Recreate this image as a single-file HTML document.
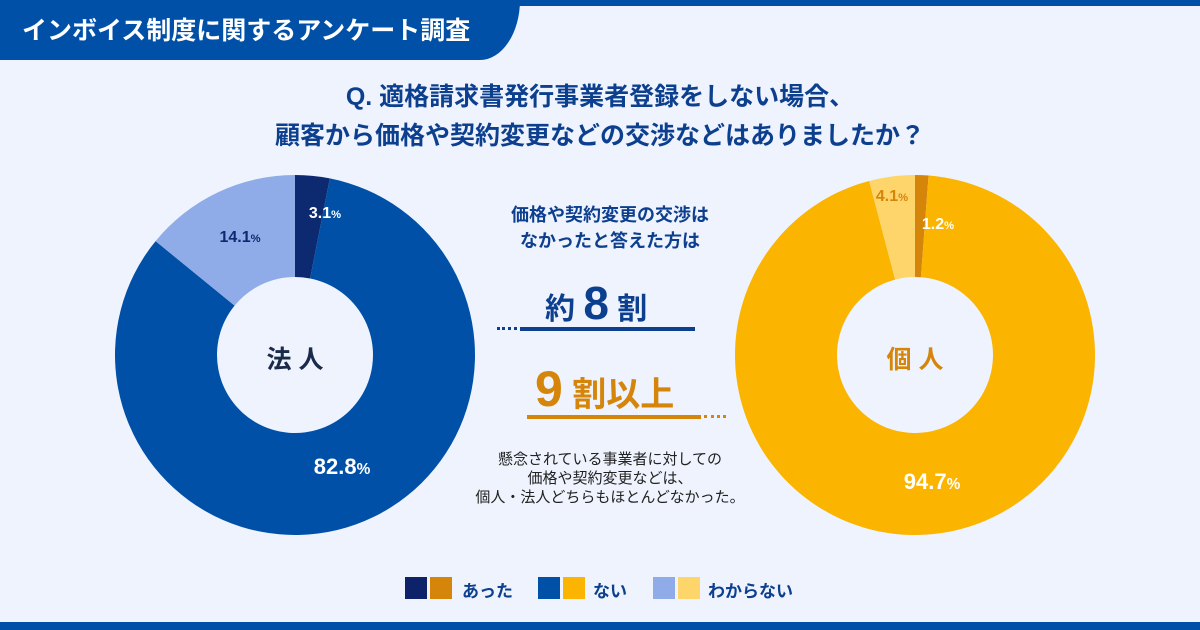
<!DOCTYPE html>
<html><head><meta charset="utf-8">
<style>
body{margin:0;width:1200px;height:630px;overflow:hidden;background:#eef3fd;font-family:"Liberation Sans","Noto Sans CJK JP",sans-serif;}
.abs{position:absolute;}
.t{font-weight:bold;white-space:nowrap;}
</style></head><body>
<div class="abs" style="left:0;top:0;width:1200px;height:6px;background:#0050a8"></div>
<div class="abs" style="left:0;top:0;width:520px;height:60px;background:#0050a8;border-bottom-right-radius:40px 60px"></div>
<div class="abs t" style="left:22px;top:11px;font-size:25px;color:#fff">インボイス制度に関するアンケート調査</div>
<div class="abs t" style="left:0;width:1200px;top:78px;text-align:center;font-size:25px;line-height:39px;color:#0d3f8f">Q. 適格請求書発行事業者登録をしない場合、<br>顧客から価格や契約変更などの交渉などはありましたか？</div>
<svg class="abs" style="left:0;top:0" width="1200" height="630">
<g id="g"></g><g id="gl"></g>
</svg>
<div class="abs t" style="left:245px;top:340px;width:100px;text-align:center;font-size:25px;color:#1a2a4a">法 人</div>
<div class="abs t" style="left:865px;top:340px;width:100px;text-align:center;font-size:25px;color:#d4850a">個 人</div>
<div class="abs t" style="left:470px;top:202px;width:280px;text-align:center;font-size:18px;line-height:26px;color:#0d3f8f">価格や契約変更の交渉は<br>なかったと答えた方は</div>
<div class="abs t" style="left:545px;top:276px;font-size:30px;color:#0d3f8f">約 <span style="font-size:46px">8</span> 割</div>
<div class="abs" style="left:497px;top:327px;width:20px;border-top:3px dotted #0d3f8f"></div>
<div class="abs" style="left:520px;top:327px;width:175px;height:4px;background:#0d3f8f"></div>
<div class="abs t" style="left:535px;top:360px;font-size:34px;color:#d4850a"><span style="font-size:50px">9</span> 割以上</div>
<div class="abs" style="left:527px;top:415px;width:174px;height:4px;background:#d4850a"></div>
<div class="abs" style="left:704px;top:415px;width:22px;border-top:3px dotted #d4850a"></div>
<div class="abs t" style="left:450px;top:450px;width:320px;text-align:center;font-size:15px;line-height:19px;color:#222;font-weight:normal">懸念されている事業者に対しての<br>価格や契約変更などは、<br>個人・法人どちらもほとんどなかった。</div>
<div class="abs" style="left:405px;top:577px;width:22px;height:22px;background:#0d2268"></div>
<div class="abs" style="left:430px;top:577px;width:22px;height:22px;background:#d4850a"></div>
<div class="abs t" style="left:462px;top:577px;font-size:17px;color:#0d3f8f">あった</div>
<div class="abs" style="left:538px;top:577px;width:22px;height:22px;background:#0050a8"></div>
<div class="abs" style="left:563px;top:577px;width:22px;height:22px;background:#fbb400"></div>
<div class="abs t" style="left:593px;top:577px;font-size:17px;color:#0d3f8f">ない</div>
<div class="abs" style="left:653px;top:577px;width:22px;height:22px;background:#8fabe8"></div>
<div class="abs" style="left:678px;top:577px;width:22px;height:22px;background:#fdd56b"></div>
<div class="abs t" style="left:708px;top:577px;font-size:17px;color:#0d3f8f">わからない</div>
<div class="abs" style="left:0;top:622px;width:1200px;height:8px;background:#0050a8"></div>
<script>
const categories=["あった","ない","わからない"];
const corpValues=[3.1,82.8,14.1];
const indivValues=[1.2,94.7,4.1];
const corpColors=["#0d2a70","#0050a8","#8fabe8"];
const indivColors=["#d4850a","#fbb400","#fdd56b"];
const corpLabelColors=["#fff","#fff","#0d2a70"];
const indivLabelColors=["#fff","#fff","#d4850a"];
const g=document.getElementById('g');
const gl=document.getElementById('gl');
const NS="http://www.w3.org/2000/svg";
function pt(cx,cy,r,f){const a=f*2*Math.PI-Math.PI/2;return [cx+r*Math.cos(a),cy+r*Math.sin(a)];}
function donut(vals,colors,lcolors,cx,cy,R,r,name,labelPos){
  const tot=vals.reduce((a,b)=>a+b,0);let acc=0;
  vals.forEach((v,i)=>{
    const f0=acc/tot,f1=(acc+v)/tot;acc+=v;
    const [x0,y0]=pt(cx,cy,R,f0),[x1,y1]=pt(cx,cy,R,f1),[x2,y2]=pt(cx,cy,r,f1),[x3,y3]=pt(cx,cy,r,f0);
    const lg=(f1-f0)>0.5?1:0;
    const p=document.createElementNS(NS,'path');
    p.setAttribute('d',`M${x0},${y0}A${R},${R} 0 ${lg} 1 ${x1},${y1}L${x2},${y2}A${r},${r} 0 ${lg} 0 ${x3},${y3}Z`);
    p.setAttribute('fill',colors[i]);
    
    
    g.appendChild(p);
    const lp=labelPos[i];
    const t=document.createElementNS(NS,'text');
    t.setAttribute('x',lp[0]);t.setAttribute('y',lp[1]);
    t.setAttribute('fill',lcolors[i]);t.setAttribute('font-weight','bold');
    t.setAttribute('font-size',lp[2]);
    t.setAttribute('font-family','"Liberation Sans",sans-serif');
    t.setAttribute('text-anchor','middle');
    
    
    t.innerHTML=v.toFixed(1)+'<tspan font-size="'+(lp[2]*0.7)+'">%</tspan>';
    gl.appendChild(t);
  });
}
donut(corpValues,corpColors,corpLabelColors,295,355,180,78,'corp',[[325,218,16],[342,474,22],[240,242,16]]);
donut(indivValues,indivColors,indivLabelColors,915,355,180,78,'indiv',[[938,229,16],[932,489,22],[892,201,16]]);
</script>
</body></html>
